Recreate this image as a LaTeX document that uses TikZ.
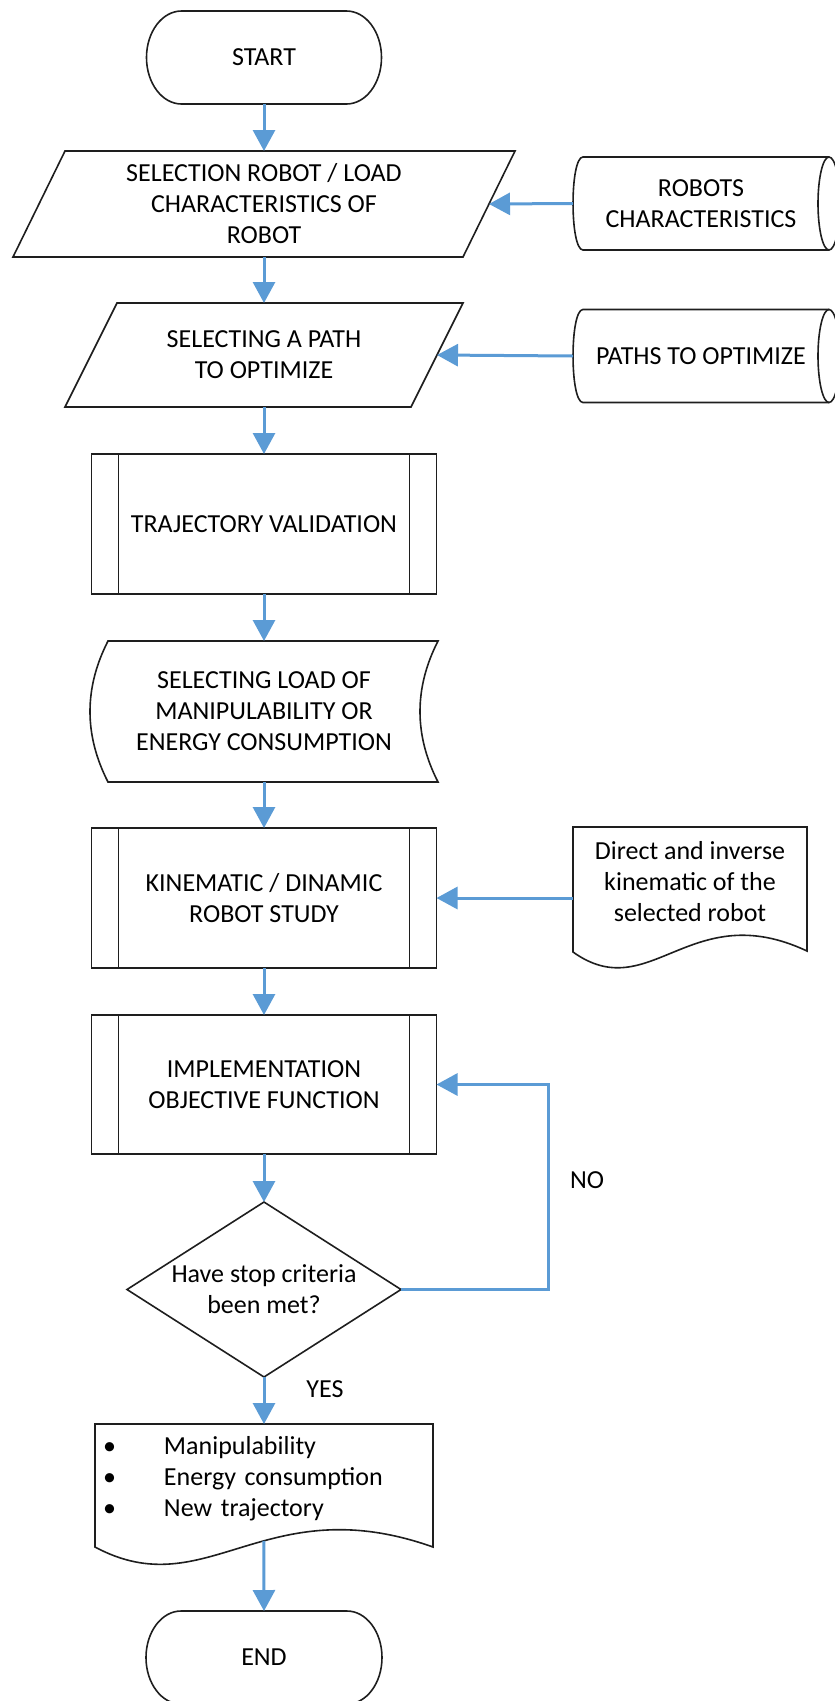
\documentclass[tikz,border=0pt]{standalone}
\usepackage{fontspec}
\setmainfont{Carlito}
\usetikzlibrary{arrows.meta,calc,shapes.geometric}
\definecolor{flowblue}{HTML}{5B9BD5}
\definecolor{shapeline}{HTML}{1E1E1E}

\newcommand\drawterminal[1]{%
  \draw[outline] ($(#1.north west)+(35,0)$) -- ($(#1.north east)+(-35,0)$)
    .. controls ($(#1.north east)+(-15.7,0)$) and ($(#1.east)+(0,-25.7)$) .. (#1.east)
    .. controls ($(#1.east)+(0,25.7)$) and ($(#1.south east)+(-15.7,0)$) .. ($(#1.south east)+(-35,0)$)
    -- ($(#1.south west)+(35,0)$)
    .. controls ($(#1.south west)+(15.7,0)$) and ($(#1.west)+(0,25.7)$) .. (#1.west)
    .. controls ($(#1.west)+(0,-25.7)$) and ($(#1.north west)+(15.7,0)$) .. ($(#1.north west)+(35,0)$) -- cycle;}
\newcommand\drawpara[2]{%
  \draw[outline] ($(#1.north west)+(#2,0)$) -- (#1.north east) -- ($(#1.south east)+(-#2,0)$) -- (#1.south west) -- cycle;}
\newcommand\drawcyl[1]{%
  \draw[outline] (#1.north east) -- ($(#1.north west)+(10,0)$)
    .. controls ($(#1.north west)+(-3.3,0)$) and ($(#1.south west)+(-3.3,0)$) .. ($(#1.south west)+(10,0)$)
    -- (#1.south east);
  \draw[outline] (#1.east) ellipse [x radius=11pt, y radius=46.5pt];}
\newcommand\drawproc[1]{%
  \draw[outline] (#1.north west) rectangle (#1.south east);
  \draw[outline] ($(#1.north west)+(27,0)$) -- ($(#1.south west)+(27,0)$);
  \draw[outline] ($(#1.north east)+(-27,0)$) -- ($(#1.south east)+(-27,0)$);}

\begin{document}
\begin{tikzpicture}[x=1pt,y=-1pt,
  every node/.style={font=\fontsize{26}{31}\selectfont, text=black, inner sep=0pt, outer sep=0pt, align=center},
  holder/.style={draw=none, rectangle},
  outline/.style={draw=shapeline, line width=1.6pt},
  flow/.style={draw=flowblue, line width=3pt, -{Triangle[width=22pt,length=21pt]}},
]
\useasboundingbox (0,0) rectangle (835,1701);

% nodes
\node[holder, minimum width=235, minimum height=93] (start) at (264,57.5) {START};
\node[holder, minimum width=502, minimum height=106] (p1) at (264,204) {SELECTION ROBOT / LOAD\\CHARACTERISTICS OF\\ROBOT};
\node[holder, minimum width=256, minimum height=93] (rc) at (701,203.5) {ROBOTS\\CHARACTERISTICS};
\node[holder, minimum width=398, minimum height=104] (p2) at (264,355) {SELECTING A PATH\\TO OPTIMIZE};
\node[holder, minimum width=256, minimum height=93] (pc) at (701,356) {PATHS TO OPTIMIZE};
\node[holder, minimum width=345, minimum height=140] (traj) at (264,524) {TRAJECTORY VALIDATION};
\node[holder, minimum width=348, minimum height=141] (tape) at (264,711.5) {SELECTING LOAD OF\\MANIPULABILITY OR\\ENERGY CONSUMPTION};
\node[holder, minimum width=345, minimum height=140] (kin) at (264,898) {KINEMATIC / DINAMIC\\ROBOT STUDY};
\node[holder, minimum width=234, minimum height=110] (ddoc) at (690,882) {Direct and inverse\\kinematic of the\\selected robot};
\node[holder, minimum width=345, minimum height=139] (impl) at (264,1084.5) {IMPLEMENTATION\\OBJECTIVE FUNCTION};
\node[diamond, draw=shapeline, line width=1.6pt, minimum width=274, minimum height=175, aspect=1.566] (dia) at (264,1289.5) {Have stop criteria\\been met?};
\node[holder, minimum width=338, minimum height=110, text width=322, inner xsep=8pt, align=left] (bdoc) at (264,1479)
  {\makebox[61pt][l]{•}Manipulability\\\makebox[61pt][l]{•}Energy consumption\\\makebox[61pt][l]{•}New trajectory};
\node[holder, minimum width=236, minimum height=93] (end) at (264,1657.5) {END};
\node (no) at (587,1180) {NO};
\node (yes) at (325,1389) {YES};

% outlines
\drawterminal{start}
\drawpara{p1}{52}
\drawpara{p2}{52}
\drawcyl{rc}
\drawcyl{pc}
\drawproc{traj}
\drawproc{kin}
\drawproc{impl}
\draw[outline] ($(tape.north west)+(18,0)$) -- (tape.north east)
  .. controls ($(tape.north east)+(-24,47)$) and ($(tape.south east)+(-24,-47)$) .. (tape.south east)
  -- ($(tape.south west)+(18,0)$)
  .. controls ($(tape.south west)+(-6,-47)$) and ($(tape.north west)+(-6,47)$) .. ($(tape.north west)+(18,0)$) -- cycle;
\draw[outline] (ddoc.north west) -- (ddoc.north east) -- ($(ddoc.south east)+(0,14)$)
  .. controls ($(ddoc.south east)+(-117,-41)$) and ($(ddoc.south west)+(77,70)$) .. ($(ddoc.south west)+(0,15)$) -- cycle;
\draw[outline] (bdoc.north west) -- (bdoc.north east) -- ($(bdoc.south east)+(0,13)$)
  .. controls ($(bdoc.south east)+(-169,-47)$) and ($(bdoc.south west)+(112,73)$) .. ($(bdoc.south west)+(0,13)$)
  coordinate[pos=0.43] (bw) -- cycle;
\drawterminal{end}

% connectors
\coordinate (p1r) at ($(p1.east)+(-26,0)$);
\coordinate (p2r) at ($(p2.east)+(-26,0)$);
\coordinate (loop) at ($(impl.east)+(112,0)$);
\draw[flow] (start.south) -- (p1.north);
\draw[flow] (rc.west) -- (p1r);
\draw[flow] (p1.south) -- (p2.north);
\draw[flow] (pc.west) -- (p2r);
\draw[flow] (p2.south) -- (traj.north);
\draw[flow] (traj.south) -- (tape.north);
\draw[flow] (tape.south) -- (kin.north);
\draw[flow] (kin.east -| ddoc.west) -- (kin.east);
\draw[flow] (kin.south) -- (impl.north);
\draw[flow] (impl.south) -- (dia.north);
\draw[flow] (dia.east) -| (loop) -- (impl.east);
\draw[flow] (dia.south) -- (bdoc.north);
\draw[flow] (bw) -- (end.north);
\end{tikzpicture}
\end{document}
